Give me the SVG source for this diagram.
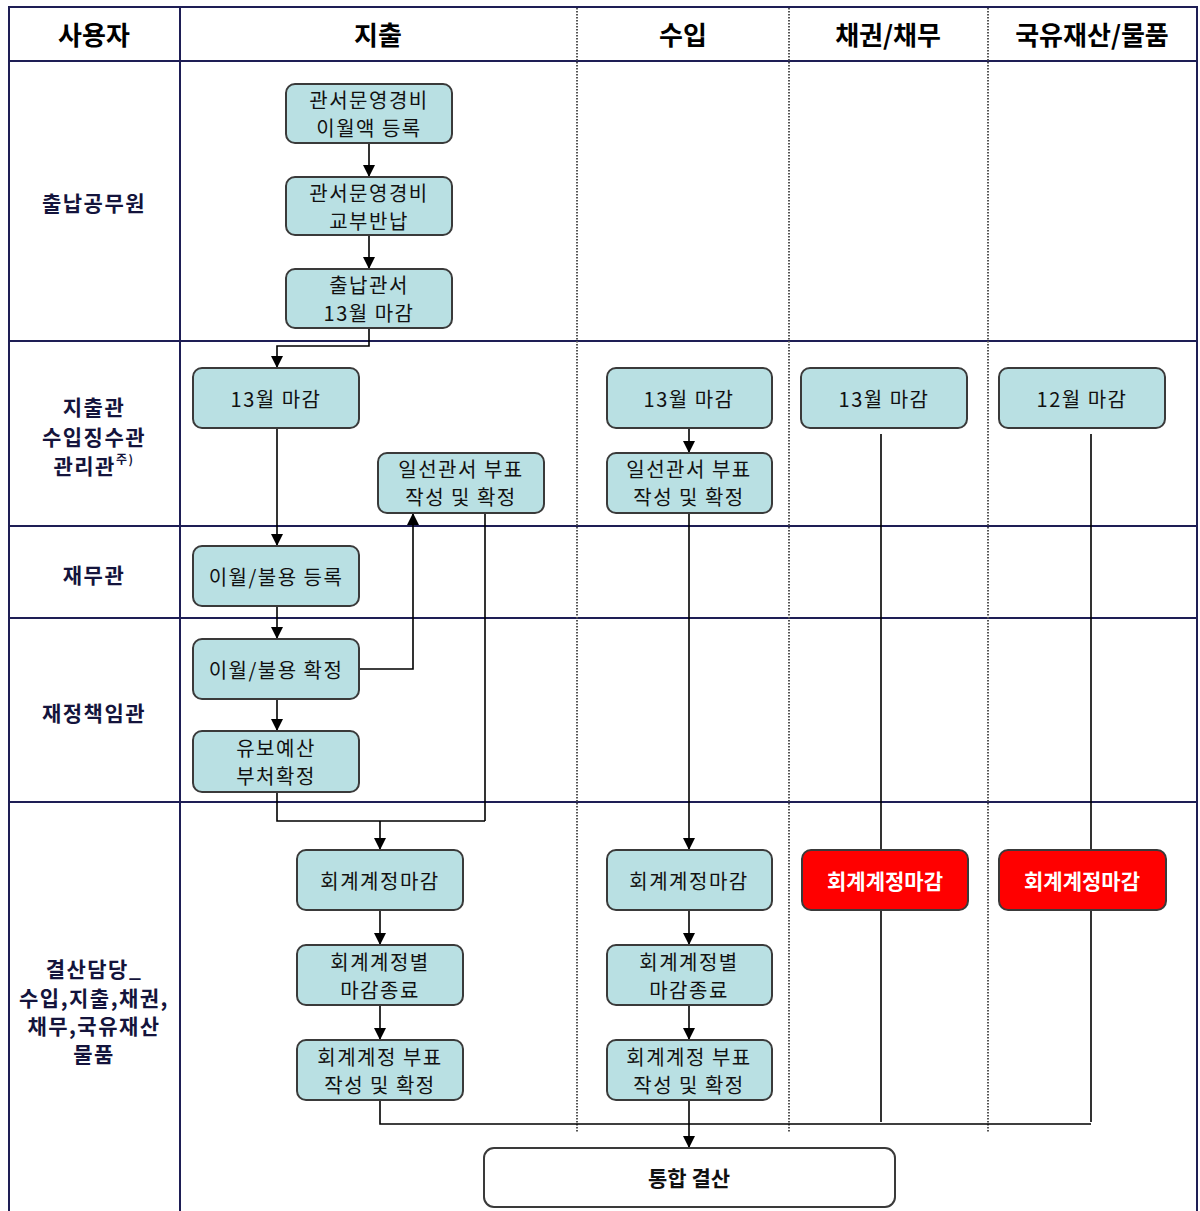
<svg xmlns="http://www.w3.org/2000/svg" width="1200" height="1211" viewBox="0 0 1200 1211">
<defs>
<marker id="ah" viewBox="0 0 10 10" refX="10" refY="5" markerWidth="12" markerHeight="12" markerUnits="userSpaceOnUse" orient="auto">
<path d="M0,0 L10,5 L0,10 Z" fill="#000"/>
</marker>
<style>
.frame{stroke:#1e1e55;stroke-width:2;fill:none}
.dot{stroke:#555;stroke-width:2;stroke-dasharray:1.5 1.5;fill:none}
.box{fill:#b9e0e3;stroke:#3a3a3a;stroke-width:2}
.red{fill:#ff0000;stroke:#3a3a3a;stroke-width:2}
.white{fill:#fff;stroke:#3a3a3a;stroke-width:2}
.t{font-family:"Noto Sans CJK KR","Noto Sans",sans-serif;font-size:20px;letter-spacing:1.5px;fill:#111;text-anchor:middle;dominant-baseline:central}
.rt{font-family:"Noto Sans CJK KR","Noto Sans",sans-serif;font-size:21px;font-weight:bold;fill:#fff;text-anchor:middle;dominant-baseline:central}
.bt{font-family:"Noto Sans CJK KR","Noto Sans",sans-serif;font-size:21px;font-weight:bold;fill:#111;text-anchor:middle;dominant-baseline:central}
.h{font-family:"Noto Sans CJK KR","Noto Sans",sans-serif;font-size:26px;font-weight:bold;fill:#000;text-anchor:middle;dominant-baseline:central}
.lbl{font-family:"Noto Sans CJK KR","Noto Sans",sans-serif;font-size:21px;letter-spacing:1.5px;font-weight:bold;fill:#14143c;text-anchor:middle;dominant-baseline:central}
.c{stroke:#000;stroke-width:1.6;fill:none}
</style>
</defs>
<rect width="1200" height="1211" fill="#fff"/>
<g id="grid">
<path class="frame" d="M9,1211 V7 H1197 V1211"/>
<path class="frame" d="M180,7 V1211"/>
<path class="frame" d="M9,61 H1197 M9,341 H1197 M9,526 H1197 M9,618 H1197 M9,802 H1197"/>
<path class="dot" d="M577,8 V1132 M789,8 V1132 M988,8 V1132"/>
</g>
<g id="headers">
<text class="h" x="94" y="33">사용자</text>
<text class="h" x="378" y="33">지출</text>
<text class="h" x="683" y="33">수입</text>
<text class="h" x="888" y="33">채권/채무</text>
<text class="h" x="1092" y="33">국유재산/물품</text>
</g>
<g id="lanes">
<text class="lbl" x="94" y="202">출납공무원</text>
<text class="lbl" x="94" y="406">지출관</text>
<text class="lbl" x="94" y="436">수입징수관</text>
<text class="lbl" x="94" y="465">관리관<tspan font-size="12" dy="-7">주)</tspan></text>
<text class="lbl" x="94" y="574">재무관</text>
<text class="lbl" x="94" y="712">재정책임관</text>
<text class="lbl" x="94" y="968">결산담당_</text>
<text class="lbl" x="94" y="997">수입,지출,채권,</text>
<text class="lbl" x="94" y="1025">채무,국유재산</text>
<text class="lbl" x="94" y="1053">물품</text>
</g>
<g id="connectors">
<path class="c" d="M369,143 V177" marker-end="url(#ah)"/>
<path class="c" d="M369,235 V269" marker-end="url(#ah)"/>
<path class="c" d="M369,328 V346 H277 V368" marker-end="url(#ah)"/>
<path class="c" d="M277,428 V546" marker-end="url(#ah)"/>
<path class="c" d="M277,606 V639" marker-end="url(#ah)"/>
<path class="c" d="M277,699 V731" marker-end="url(#ah)"/>
<path class="c" d="M359,669 H413 V513" marker-end="url(#ah)"/>
<path class="c" d="M485,513 V821"/>
<path class="c" d="M277,792 V821 H485"/>
<path class="c" d="M380,821 V850" marker-end="url(#ah)"/>
<path class="c" d="M380,910 V945" marker-end="url(#ah)"/>
<path class="c" d="M380,1005 V1040" marker-end="url(#ah)"/>
<path class="c" d="M380,1100 V1124 H1091"/>
<path class="c" d="M689,428 V453" marker-end="url(#ah)"/>
<path class="c" d="M689,513 V850" marker-end="url(#ah)"/>
<path class="c" d="M689,910 V945" marker-end="url(#ah)"/>
<path class="c" d="M689,1005 V1040" marker-end="url(#ah)"/>
<path class="c" d="M689,1100 V1148" marker-end="url(#ah)"/>
<path class="c" d="M881,434 V850 M881,910 V1122"/>
<path class="c" d="M1091,434 V850 M1091,910 V1122"/>
</g>
<g id="n1"><rect class="box" x="286" y="84" width="166" height="59" rx="9"/><text class="t" x="369" y="99">관서문영경비</text><text class="t" x="369" y="127">이월액 등록</text></g>
<g id="n2"><rect class="box" x="286" y="177" width="166" height="58" rx="9"/><text class="t" x="369" y="192">관서문영경비</text><text class="t" x="369" y="220">교부반납</text></g>
<g id="n3"><rect class="box" x="286" y="269" width="166" height="59" rx="9"/><text class="t" x="369" y="284">출납관서</text><text class="t" x="369" y="312">13월 마감</text></g>
<g id="n4"><rect class="box" x="193" y="368" width="166" height="60" rx="9"/><text class="t" x="276" y="398">13월 마감</text></g>
<g id="n5"><rect class="box" x="378" y="453" width="166" height="60" rx="9"/><text class="t" x="461" y="468">일선관서 부표</text><text class="t" x="461" y="496">작성 및 확정</text></g>
<g id="n6"><rect class="box" x="193" y="546" width="166" height="60" rx="9"/><text class="t" x="276" y="576">이월/불용 등록</text></g>
<g id="n7"><rect class="box" x="193" y="639" width="166" height="60" rx="9"/><text class="t" x="276" y="669">이월/불용 확정</text></g>
<g id="n8"><rect class="box" x="193" y="731" width="166" height="61" rx="9"/><text class="t" x="276" y="747">유보예산</text><text class="t" x="276" y="775">부처확정</text></g>
<g id="n9"><rect class="box" x="297" y="850" width="166" height="60" rx="9"/><text class="t" x="380" y="880">회계계정마감</text></g>
<g id="n10"><rect class="box" x="297" y="945" width="166" height="60" rx="9"/><text class="t" x="380" y="961">회계계정별</text><text class="t" x="380" y="989">마감종료</text></g>
<g id="n11"><rect class="box" x="297" y="1040" width="166" height="60" rx="9"/><text class="t" x="380" y="1056">회계계정 부표</text><text class="t" x="380" y="1084">작성 및 확정</text></g>
<g id="n12"><rect class="box" x="607" y="368" width="165" height="60" rx="9"/><text class="t" x="689" y="398">13월 마감</text></g>
<g id="n13"><rect class="box" x="607" y="453" width="165" height="60" rx="9"/><text class="t" x="689" y="468">일선관서 부표</text><text class="t" x="689" y="496">작성 및 확정</text></g>
<g id="n14"><rect class="box" x="607" y="850" width="165" height="60" rx="9"/><text class="t" x="689" y="880">회계계정마감</text></g>
<g id="n15"><rect class="box" x="607" y="945" width="165" height="60" rx="9"/><text class="t" x="689" y="961">회계계정별</text><text class="t" x="689" y="989">마감종료</text></g>
<g id="n16"><rect class="box" x="607" y="1040" width="165" height="60" rx="9"/><text class="t" x="689" y="1056">회계계정 부표</text><text class="t" x="689" y="1084">작성 및 확정</text></g>
<g id="n17"><rect class="box" x="801" y="368" width="166" height="60" rx="9"/><text class="t" x="884" y="398">13월 마감</text></g>
<g id="n18"><rect class="box" x="999" y="368" width="166" height="60" rx="9"/><text class="t" x="1082" y="398">12월 마감</text></g>
<g id="n19"><rect class="red" x="802" y="850" width="166" height="60" rx="9"/><text class="rt" x="885" y="880">회계계정마감</text></g>
<g id="n20"><rect class="red" x="999" y="850" width="167" height="60" rx="9"/><text class="rt" x="1082" y="880">회계계정마감</text></g>
<g id="n21"><rect class="white" x="484" y="1148" width="411" height="59" rx="10"/><text class="bt" x="689" y="1177">통합 결산</text></g>
</svg>
